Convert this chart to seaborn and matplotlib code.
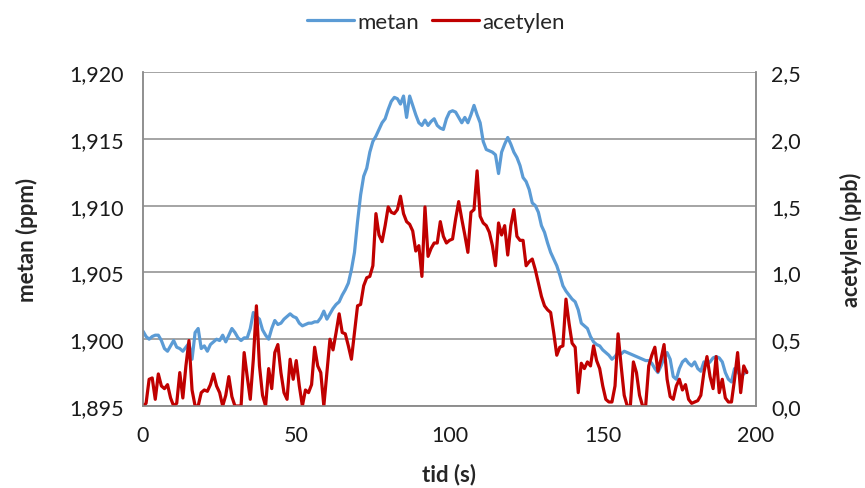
import matplotlib
matplotlib.use("Agg")
import matplotlib.pyplot as plt
from matplotlib.ticker import FuncFormatter
import pandas as pd
import seaborn as sns

# time axis (s), one reading per second
tid = list(range(198))

# metan (ppm), left axis
metan = [
    1.9006, 1.9002, 1.9000, 1.9002, 1.9003, 1.9003, 1.8999, 1.8993, 1.8991, 1.8995,
    1.8999, 1.8994, 1.8993, 1.8991, 1.8994, 1.8997, 1.8985, 1.9005, 1.9008, 1.8993,
    1.8995, 1.8991, 1.8996, 1.8998, 1.9000, 1.8999, 1.9003, 1.8998, 1.9003, 1.9008,
    1.9005, 1.9001, 1.8999, 1.9001, 1.9001, 1.9008, 1.9020, 1.9017, 1.9015, 1.9007,
    1.9003, 1.9000, 1.9008, 1.9014, 1.9011, 1.9012, 1.9015, 1.9017, 1.9019, 1.9017,
    1.9016, 1.9012, 1.9010, 1.9011, 1.9012, 1.9012, 1.9013, 1.9013, 1.9016, 1.9021,
    1.9015, 1.9019, 1.9023, 1.9026, 1.9028, 1.9033, 1.9037, 1.9042, 1.9052, 1.9065,
    1.9088, 1.9108, 1.9122, 1.9128, 1.9140, 1.9148, 1.9152, 1.9157, 1.9162, 1.9165,
    1.9172, 1.9178, 1.9181, 1.9180, 1.9176, 1.9182, 1.9166, 1.9182, 1.9175, 1.9168,
    1.9162, 1.9160, 1.9164, 1.9160, 1.9163, 1.9165, 1.9160, 1.9158, 1.9157, 1.9165,
    1.9170, 1.9171, 1.9170, 1.9166, 1.9162, 1.9166, 1.9162, 1.9168, 1.9175, 1.9168,
    1.9162, 1.9148, 1.9142, 1.9141, 1.9140, 1.9138, 1.9124, 1.9140, 1.9146, 1.9151,
    1.9146, 1.9140, 1.9136, 1.9130, 1.9121, 1.9118, 1.9112, 1.9102, 1.9100, 1.9095,
    1.9085, 1.9080, 1.9072, 1.9065, 1.9060, 1.9055, 1.9048, 1.9040, 1.9036, 1.9033,
    1.9030, 1.9028, 1.9022, 1.9012, 1.9010, 1.9008, 1.9002, 1.8998, 1.8996, 1.8995,
    1.8992, 1.8990, 1.8988, 1.8985, 1.8987, 1.8990, 1.8989, 1.8991, 1.8990, 1.8989,
    1.8988, 1.8987, 1.8986, 1.8985, 1.8984, 1.8984, 1.8982, 1.8978, 1.8975, 1.8980,
    1.8986, 1.8990, 1.8985, 1.8972, 1.8970, 1.8978, 1.8983, 1.8985, 1.8982, 1.8980,
    1.8983, 1.8978, 1.8976, 1.8983, 1.8981, 1.8983, 1.8986, 1.8987, 1.8986, 1.8983,
    1.8975, 1.8970, 1.8968, 1.8978, 1.8976, 1.8972, 1.8974, 1.8976,
]

# acetylen (ppb), right axis
acetylen = [
    0.00, 0.02, 0.20, 0.21, 0.05, 0.24, 0.15, 0.13, 0.16, 0.06,
    0.00, 0.02, 0.25, 0.06, 0.30, 0.49, 0.12, 0.00, 0.00, 0.10,
    0.12, 0.11, 0.16, 0.24, 0.15, 0.10, 0.00, 0.08, 0.22, 0.07,
    0.00, 0.00, 0.00, 0.40, 0.22, 0.05, 0.35, 0.75, 0.30, 0.08,
    0.00, 0.28, 0.13, 0.40, 0.46, 0.25, 0.10, 0.05, 0.35, 0.20,
    0.34, 0.15, 0.00, 0.12, 0.10, 0.16, 0.44, 0.30, 0.25, 0.00,
    0.25, 0.50, 0.42, 0.55, 0.69, 0.55, 0.54, 0.45, 0.35, 0.55,
    0.75, 0.76, 0.90, 0.96, 0.97, 1.05, 1.44, 1.28, 1.23, 1.35,
    1.49, 1.45, 1.44, 1.47, 1.57, 1.44, 1.38, 1.36, 1.31, 1.16,
    1.20, 0.97, 1.49, 1.12, 1.18, 1.22, 1.22, 1.38, 1.27, 1.22,
    1.24, 1.25, 1.40, 1.53, 1.40, 1.28, 1.15, 1.45, 1.47, 1.76,
    1.42, 1.37, 1.35, 1.30, 1.20, 1.05, 1.37, 1.28, 1.35, 1.13,
    1.35, 1.47, 1.27, 1.24, 1.24, 1.05, 1.08, 1.10, 1.02, 0.92,
    0.82, 0.75, 0.72, 0.70, 0.55, 0.38, 0.44, 0.45, 0.80, 0.62,
    0.47, 0.44, 0.10, 0.32, 0.28, 0.33, 0.30, 0.45, 0.34, 0.28,
    0.15, 0.05, 0.03, 0.03, 0.15, 0.54, 0.30, 0.08, 0.00, 0.00,
    0.33, 0.25, 0.08, 0.00, 0.00, 0.30, 0.38, 0.44, 0.26, 0.35,
    0.46, 0.20, 0.07, 0.05, 0.15, 0.20, 0.12, 0.16, 0.05, 0.02,
    0.03, 0.04, 0.08, 0.25, 0.37, 0.22, 0.13, 0.37, 0.10, 0.20,
    0.06, 0.03, 0.03, 0.20, 0.40, 0.10, 0.30, 0.25,
]

left_ticks = [1.895, 1.900, 1.905, 1.910, 1.915, 1.920]
right_ticks = [0.0, 0.5, 1.0, 1.5, 2.0, 2.5]
x_ticks = [0, 50, 100, 150, 200]

df = pd.DataFrame({"tid": tid, "metan": metan, "acetylen": acetylen})

sns.set_theme(style="white")
plt.rcParams["font.family"] = ["Lato", "DejaVu Sans"]

blue = "#5b9bd5"
red = "#c00000"
grid_col = "#8c8c8c"

fig = plt.figure(figsize=(8.65, 4.89), dpi=100)
ax = fig.add_axes([143 / 865, 1 - 407 / 489, (756 - 143) / 865, (407 - 73) / 489])
ax2 = ax.twinx()

sns.lineplot(data=df, x="tid", y="metan", ax=ax, color=blue, lw=2.3, label="metan", legend=False)
sns.lineplot(data=df, x="tid", y="acetylen", ax=ax2, color=red, lw=2.3, label="acetylen", legend=False)

ax.set_xlim(0, 200)
ax.set_ylim(1.895, 1.920)
ax2.set_ylim(0, 2.5)
ax.set_xticks(x_ticks)
ax.set_yticks(left_ticks)
ax2.set_yticks(right_ticks)

ax.yaxis.set_major_formatter(FuncFormatter(lambda v, p: f"{v:.3f}".replace(".", ",")))
ax2.yaxis.set_major_formatter(FuncFormatter(lambda v, p: f"{v:.1f}".replace(".", ",")))

ax.grid(axis="y", color=grid_col, lw=1.1)
ax.grid(axis="x", visible=False)
ax2.grid(False)

for a in (ax, ax2):
    a.spines["top"].set_visible(False)
    for s in ("left", "right", "bottom"):
        a.spines[s].set_color(grid_col)
        a.spines[s].set_linewidth(1.1)
    a.tick_params(labelsize=15.5, colors="#1a1a1a", color=grid_col, width=1.1)
ax.tick_params(axis="x", direction="out", length=4, pad=10)
ax.tick_params(axis="y", length=0, pad=14)
ax2.tick_params(axis="y", length=0, pad=11)

ax.set_xlabel("tid (s)", fontsize=16, fontweight="bold")
ax.set_ylabel("metan (ppm)", fontsize=16, fontweight="bold")
ax2.set_ylabel("acetylen (ppb)", fontsize=15.5, fontweight="bold")
ax.xaxis.set_label_coords(0.5, (407 - 464) / 334)
ax.yaxis.set_label_coords((38 - 143) / 613, 0.5)
ax2.yaxis.set_label_coords((840 - 143) / 613, 0.5)

h1, l1 = ax.get_legend_handles_labels()
h2, l2 = ax2.get_legend_handles_labels()
fig.legend(h1 + h2, l1 + l2, loc="center", bbox_to_anchor=(436 / 865, 1 - 23 / 489),
           ncol=2, frameon=False, fontsize=16, handlelength=2.1, handletextpad=0.15,
           columnspacing=0.6)

fig.savefig("out.png", dpi=100)
